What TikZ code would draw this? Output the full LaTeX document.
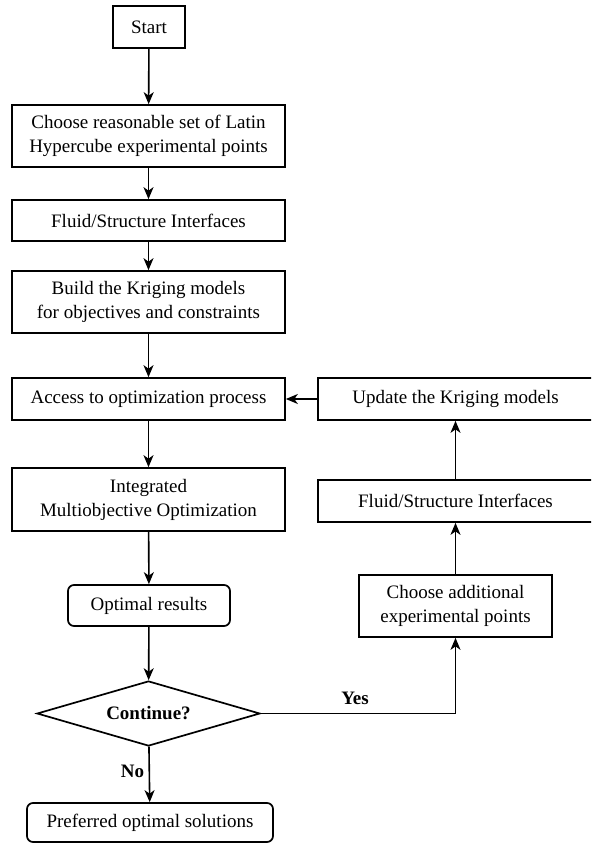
\documentclass[tikz,border=0pt]{standalone}
\usepackage{fontspec}
\setmainfont{Liberation Serif}
\usetikzlibrary{arrows.meta,shapes.geometric}
\tikzset{
  box/.style={draw, line width=1.7pt, inner sep=0pt, align=center, font=\fontsize{19}{24}\selectfont},
  rbox/.style={box, rounded corners=6pt},
  dec/.style={draw, diamond, aspect=3.43, line width=1.7pt, inner sep=0pt, font=\bfseries\fontsize{19}{24}\selectfont},
  arr/.style={line width=1.6pt, -{Stealth[length=12pt,width=10pt,inset=3.5pt]}},
  lbl/.style={font=\bfseries\fontsize{19}{24}\selectfont}
}
\begin{document}
\begin{tikzpicture}[x=1pt,y=-1pt]
\useasboundingbox (0,0) rectangle (591,845);
\clip (0,0) rectangle (591,845);
\node[box, minimum width=72pt, minimum height=42pt] (start) at (149,27) {Start};
\node[box, minimum width=273pt, minimum height=62pt] (lhs) at (148.5,136) {Choose reasonable set of Latin\\Hypercube experimental points};
\node[box, minimum width=273pt, minimum height=41pt] (fsi) at (148.5,220.5) {Fluid/Structure Interfaces};
\node[box, minimum width=273pt, minimum height=62pt] (build) at (148.5,302) {Build the Kriging models\\for objectives and constraints};
\node[box, minimum width=273pt, minimum height=42pt] (access) at (148.5,399) {Access to optimization process};
\node[box, minimum width=273pt, minimum height=63pt] (imo) at (148.5,499.5) {Integrated\\Multiobjective Optimization};
\node[rbox, minimum width=162pt, minimum height=41pt] (opt) at (149,605.5) {Optimal results};
\node[dec, minimum width=223pt, minimum height=65pt] (cont) at (148.5,713.5) {Continue?};
\node[rbox, minimum width=246pt, minimum height=39pt] (pref) at (150,822.5) {Preferred optimal solutions};
\node[box, minimum width=275pt, minimum height=42pt] (upd) at (455.5,399) {Update the Kriging models};
\node[box, minimum width=275pt, minimum height=42pt] (fsi2) at (455.5,501) {Fluid/Structure Interfaces};
\node[box, minimum width=193pt, minimum height=62pt] (add) at (455.5,606) {Choose additional\\experimental points};
\draw[arr] (start) -- (lhs);
\draw[arr] (lhs) -- (fsi);
\draw[arr] (fsi) -- (build);
\draw[arr] (build) -- (access);
\draw[arr] (access) -- (imo);
\draw[arr] (imo) -- (opt);
\draw[arr] (opt) -- (cont);
\draw[arr] (cont) -- node[lbl, left, pos=0.45, xshift=-1pt] {No} (pref);
\draw[arr] (cont.east) -| (add.south);
\node[lbl] (yes) at (355,698) {Yes};
\draw[arr] (add) -- (fsi2);
\draw[arr] (fsi2) -- (upd);
\draw[arr] (upd) -- (access);
\end{tikzpicture}
\end{document}
